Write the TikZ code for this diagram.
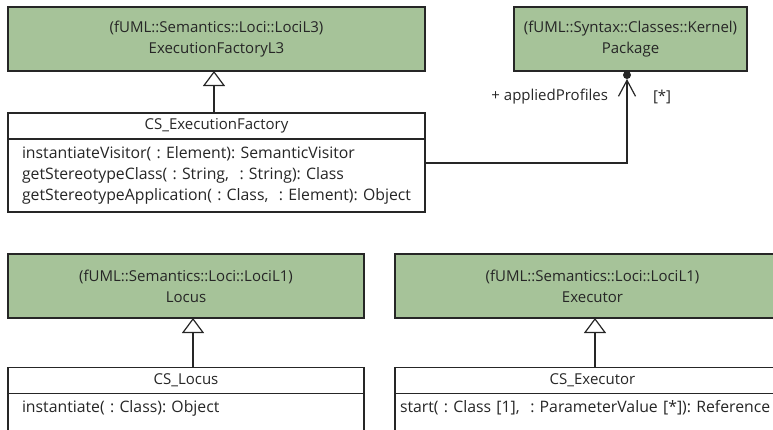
\documentclass[tikz,border=0pt]{standalone}
\usepackage{fontspec}
\setmainfont{Open Sans}
\usetikzlibrary{arrows.meta,positioning}
\definecolor{fumlgreen}{RGB}{166,195,153}
\definecolor{umlline}{RGB}{38,38,38}
\frenchspacing

\begin{document}
\begin{tikzpicture}[x=1pt, y=-1pt, line width=1.2pt, color=umlline,
	font=\fontsize{15}{21}\selectfont,
	every node/.style={inner sep=0pt, outer sep=0pt},
	superclass/.style={draw, fill=fumlgreen, align=center, minimum height=64pt},
	classname/.style={draw, fill=white, minimum height=26pt},
	operations/.style={draw, fill=white, align=left, text width=#1, inner xsep=14pt, font=\fontsize{15.8}{21}\selectfont},
	generalization/.style={-{Triangle[open, width=22pt, length=15pt]}}]
	\useasboundingbox (0,0) rectangle (773,429);
	\clip (0,0) rectangle (773,429);

	\node[superclass, minimum width=417pt] (efl3) at (216.5,39) {(fUML::Semantics::Loci::LociL3)\\ExecutionFactoryL3};
	\node[superclass, minimum width=233pt] (package) at (630.5,39) {(fUML::Syntax::Classes::Kernel)\\Package};
	\node[classname, minimum width=417pt] (csefname) at (216.5,126) {CS\_ExecutionFactory};
	\node[operations=389pt, minimum height=73pt, below=0pt of csefname] (csefops) {\mbox{instantiateVisitor( : Element): SemanticVisitor}\\\mbox{getStereotypeClass( : String,\ \ : String): Class}\\\mbox{getStereotypeApplication( : Class,\ \ : Element): Object}};

	\node[superclass, minimum width=356pt] (locus) at (186,286) {(fUML::Semantics::Loci::LociL1)\\Locus};
	\node[classname, minimum width=356pt] (cslocusname) at (186,380.5) {CS\_Locus};
	\node[operations=328pt, text height=19pt, text depth=30pt, below=0pt of cslocusname] (cslocusops) {instantiate( : Class): Object};

	\node[superclass, minimum width=395pt] (executor) at (592.5,286) {(fUML::Semantics::Loci::LociL1)\\Executor};
	\node[classname, minimum width=395pt] (csexecname) at (592.5,380.5) {CS\_Executor};
	\node[operations=385pt, inner xsep=5pt, text height=19pt, text depth=30pt, below=0pt of csexecname] (csexecops) {\mbox{start( : Class [1],\ \ : ParameterValue [*]): Reference}};

	\foreach \sub/\super/\dx in {csefname/efl3/-2.5, cslocusname/locus/7, csexecname/executor/2.5}
		\draw[generalization] ([xshift=\dx pt]\sub.north) -- ([xshift=\dx pt]\super.south);

	\coordinate (assocstart) at (425,163);
	\draw[-{Straight Barb[length=16pt, width=17pt]}, shorten >=8pt] (assocstart) -| ([xshift=-3.5pt]package.south);
	\fill ([xshift=-3.5pt, yshift=-4pt]package.south) circle (4pt);
	\node[anchor=east] (rolename) at (608,97) {+ appliedProfiles};
	\node[anchor=west] (multiplicity) at (653,97) {[*]};
\end{tikzpicture}
\end{document}
